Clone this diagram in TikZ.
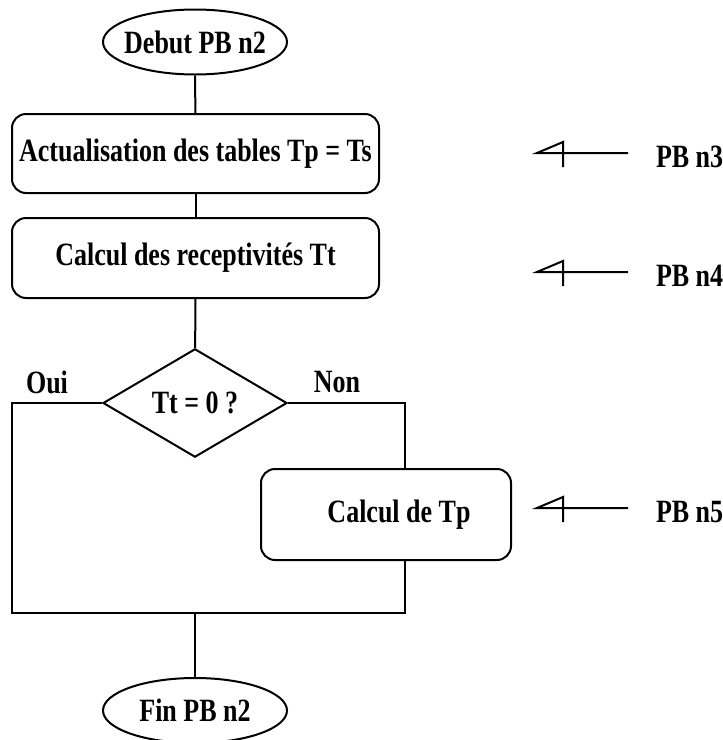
\documentclass[tikz,border=0pt]{standalone}
\usepackage{graphicx}
\usepackage{fontspec}
\setmainfont{Liberation Serif}
\usetikzlibrary{shapes.geometric}

% texte un peu etire en hauteur
\newcommand\etire[1]{\scalebox{1}[1.25]{#1}}

\begin{document}
\begin{tikzpicture}[x=0.5pt,y=-0.5pt,line width=1pt,
  every node/.style={font=\fontsize{13}{15}\selectfont\bfseries},
  term/.style={ellipse,draw,inner sep=0pt,minimum width=92pt,minimum height=32.5pt},
  action/.style={rectangle,draw,rounded corners=7pt,inner sep=0pt},
  test/.style={diamond,draw,inner sep=0pt,minimum width=92pt,minimum height=52pt}]
\useasboundingbox (0,0) rectangle (723,740);

% organigramme
\node[term] (debut) at (195,42) {\makebox[0pt]{\etire{Debut PB n2}}};
\node[action,minimum width=183.5pt,minimum height=39.5pt] (maj) at (195.5,153.5) {\raisebox{-2pt}{\etire{Actualisation des tables Tp = Ts}}};
\node[action,minimum width=183.5pt,minimum height=40pt] (recept) at (195.5,258) {\raisebox{-2pt}{\etire{Calcul des receptivités Tt}}};
\node[test] (nul) at (195,403) {\raisebox{-3pt}{\etire{Tt = 0 ?}}};
\node[action,minimum width=125pt,minimum height=45.5pt] (calcTp) at (386,514.5) {\hspace*{13pt}\etire{Calcul de Tp}};
\node[term] (fin) at (195,710.5) {\makebox[0pt]{\etire{Fin PB  n2}}};

\node (oui) at (47,382) {\etire{Oui}};
\node (non) at (337,382) {\etire{Non}};

\coordinate (bg) at (12,613);
\coordinate (bd) at (405,613);
\coordinate (jonc) at (195,613);

\draw (debut) -- (maj);
\draw (maj) -- (recept);
\draw (recept) -- (nul);
\draw (nul.west) -| (bg) -- (bd) -- (bd |- calcTp.south);
\draw (nul.east) -| (bd |- calcTp.north);
\draw (jonc) -- (fin);

% renvois vers les sous-programmes
\foreach \y/\n/\t in {153/pb3/PB n3, 272/pb4/PB n4, 508/pb5/PB n5} {
  \node[anchor=west,inner sep=0pt] (\n) at (655,\y+4) {\etire{\t}};
  \coordinate (q\n) at (628,\y);
  \draw (q\n) -- ++(-91,0) -- ++(26,-11) -- ++(0,25);
}
\end{tikzpicture}
\end{document}
